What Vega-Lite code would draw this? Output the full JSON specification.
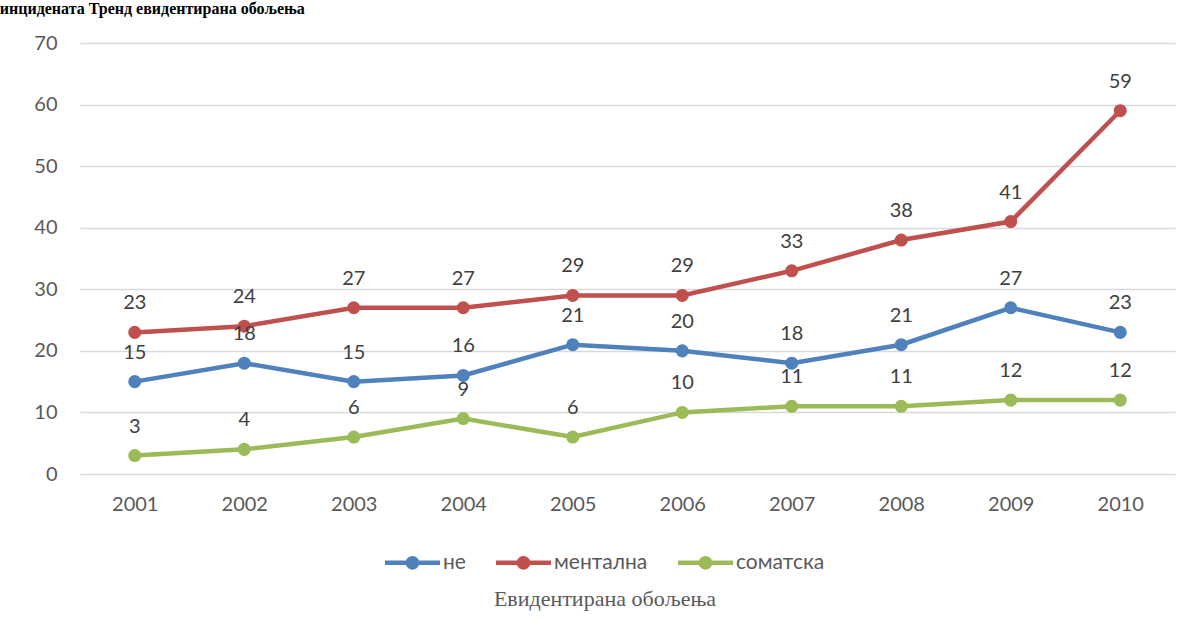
{
  "$schema": "https://vega.github.io/schema/vega-lite/v6.json",
  "width": 1095,
  "height": 431,
  "autosize": {"type": "none"},
  "padding": {"left": 80, "top": 43, "right": 24, "bottom": 151},
  "background": "white",
  "title": {
    "text": "инцидената Тренд евидентирана обољења",
    "anchor": "start",
    "font": "Liberation Serif",
    "fontSize": 16,
    "fontWeight": "bold",
    "color": "#000000",
    "baseline": "top",
    "dx": -34,
    "offset": 16
  },
  "data": {
    "values": [
      {"year": "2001", "series": "не", "value": 15},
      {"year": "2002", "series": "не", "value": 18},
      {"year": "2003", "series": "не", "value": 15},
      {"year": "2004", "series": "не", "value": 16},
      {"year": "2005", "series": "не", "value": 21},
      {"year": "2006", "series": "не", "value": 20},
      {"year": "2007", "series": "не", "value": 18},
      {"year": "2008", "series": "не", "value": 21},
      {"year": "2009", "series": "не", "value": 27},
      {"year": "2010", "series": "не", "value": 23},
      {"year": "2001", "series": "ментална", "value": 23},
      {"year": "2002", "series": "ментална", "value": 24},
      {"year": "2003", "series": "ментална", "value": 27},
      {"year": "2004", "series": "ментална", "value": 27},
      {"year": "2005", "series": "ментална", "value": 29},
      {"year": "2006", "series": "ментална", "value": 29},
      {"year": "2007", "series": "ментална", "value": 33},
      {"year": "2008", "series": "ментална", "value": 38},
      {"year": "2009", "series": "ментална", "value": 41},
      {"year": "2010", "series": "ментална", "value": 59},
      {"year": "2001", "series": "соматска", "value": 3},
      {"year": "2002", "series": "соматска", "value": 4},
      {"year": "2003", "series": "соматска", "value": 6},
      {"year": "2004", "series": "соматска", "value": 9},
      {"year": "2005", "series": "соматска", "value": 6},
      {"year": "2006", "series": "соматска", "value": 10},
      {"year": "2007", "series": "соматска", "value": 11},
      {"year": "2008", "series": "соматска", "value": 11},
      {"year": "2009", "series": "соматска", "value": 12},
      {"year": "2010", "series": "соматска", "value": 12}
    ]
  },
  "encoding": {
    "x": {
      "field": "year",
      "type": "ordinal",
      "scale": {"type": "point", "padding": 0.5},
      "axis": {
        "title": null,
        "labelAngle": 0,
        "labelFont": "Lato",
        "labelFontSize": 20,
        "labelColor": "#595959",
        "labelPadding": 20,
        "ticks": false,
        "domain": false,
        "grid": false
      }
    },
    "y": {
      "field": "value",
      "type": "quantitative",
      "scale": {"domain": [0, 70], "nice": false},
      "axis": {
        "title": null,
        "values": [0, 10, 20, 30, 40, 50, 60, 70],
        "labelFont": "Lato",
        "labelFontSize": 20,
        "labelColor": "#595959",
        "labelPadding": 23,
        "ticks": false,
        "domain": false,
        "gridColor": "#d9d9d9",
        "gridWidth": 1.5
      }
    },
    "color": {
      "field": "series",
      "type": "nominal",
      "sort": ["не", "ментална", "соматска"],
      "scale": {
        "domain": ["не", "ментална", "соматска"],
        "range": ["#4f81bd", "#c0504d", "#9bbb59"]
      },
      "legend": {
        "orient": "none",
        "legendX": 305,
        "legendY": 492,
        "direction": "horizontal",
        "title": "Евидентирана обољења",
        "titleOrient": "bottom",
        "titleAnchor": "middle",
        "titleLimit": 600,
        "titleFont": "Liberation Serif",
        "titleFontSize": 22,
        "titleFontWeight": "normal",
        "titleColor": "#595959",
        "titlePadding": 16,
        "labelFont": "Lato",
        "labelFontSize": 21,
        "labelColor": "#595959",
        "labelOffset": 3,
        "columnPadding": 30,
        "symbolType": "M-1,-0.08L1,-0.08L1,0.08L-1,0.08Z M-0.25,0 A0.25,0.25 0 1,1 0.25,0 A0.25,0.25 0 1,1 -0.25,0Z",
        "symbolSize": 3025,
        "symbolStrokeWidth": 0
      }
    }
  },
  "layer": [
    {
      "mark": {"type": "line", "strokeWidth": 4.5},
      "encoding": {}
    },
    {
      "mark": {"type": "point", "filled": true, "size": 170, "opacity": 1},
      "encoding": {}
    },
    {
      "mark": {"type": "text", "dy": -29, "font": "Lato", "fontSize": 20},
      "encoding": {
        "text": {"field": "value", "type": "quantitative"},
        "color": {"value": "#404040"},
        "fontWeight": {
          "condition": {"test": "(datum.year == '2010' && datum.value == 59) || (datum.year == '2009' && datum.value == 27) || (datum.value == 12)", "value": "bold"},
          "value": "normal"
        }
      }
    }
  ],
  "config": {"view": {"stroke": null}}
}
